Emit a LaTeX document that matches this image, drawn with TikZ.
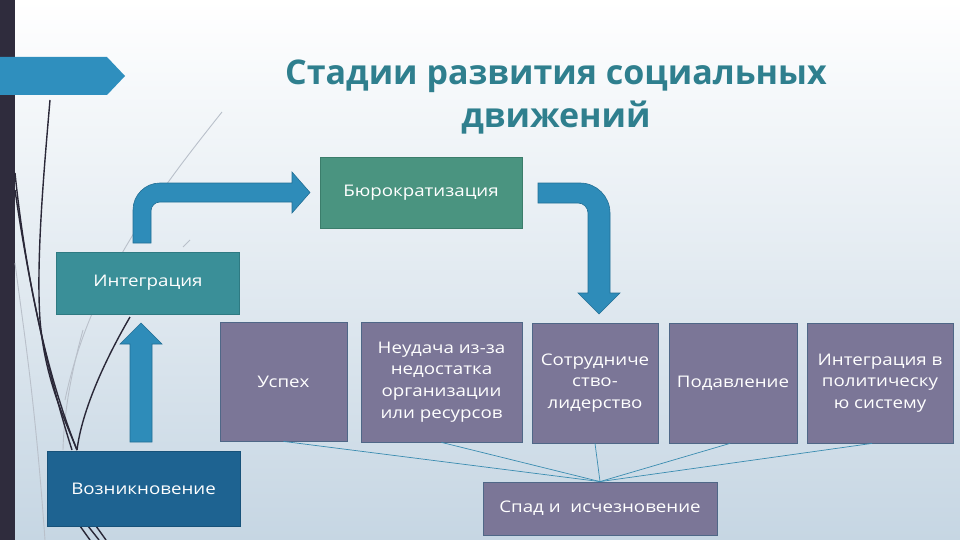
\documentclass[tikz,border=0pt]{standalone}
\usepackage{fontspec}
\setmainfont{Open Sans}
\newfontfamily\boxfont[FakeStretch=1.17]{Open Sans}
\usetikzlibrary{positioning}
\definecolor{bgbottom}{HTML}{C6D6E3}
\definecolor{darkbar}{HTML}{2F2C3D}
\definecolor{tabblue}{HTML}{2F8FBE}
\definecolor{arrowblue}{HTML}{2E8CB9}
\definecolor{arrowedge}{HTML}{226F95}
\definecolor{titleteal}{HTML}{2F7F8E}
\definecolor{purplebox}{HTML}{7B7697}
\definecolor{purpleedge}{HTML}{4F6787}
\definecolor{burogreen}{HTML}{4A9480}
\definecolor{buroedge}{HTML}{3B7D6B}
\definecolor{integteal}{HTML}{3A8F98}
\definecolor{integedge}{HTML}{2E7A82}
\definecolor{vozblue}{HTML}{1E6391}
\definecolor{vozedge}{HTML}{17527A}
\definecolor{linkblue}{HTML}{3A8CB0}
\definecolor{decodark}{HTML}{2A2838}
\definecolor{decolight}{HTML}{B9C0CA}
\tikzset{
  stagebox/.style={draw, line width=0.8pt, text=white, align=center, inner sep=2pt,
    font=\boxfont\fontsize{16}{21.7}\selectfont},
  outcome/.style={stagebox, fill=purplebox, draw=purpleedge},
  link/.style={draw=linkblue, line width=0.7pt},
  blockarrow/.style={fill=arrowblue, draw=arrowedge, line width=0.6pt},
  decoline/.style={draw=decodark, line width=1.4pt},
  decofaint/.style={draw=decolight, line width=0.9pt}
}
\begin{document}
\begin{tikzpicture}[x=1pt,y=-1pt]
\useasboundingbox (0,0) rectangle (960,540);
% background
\shade[top color=white, middle color={rgb,255:red,236;green,240;blue,245}, bottom color=bgbottom] (0,0) rectangle (960,540);
\fill[darkbar] (0,0) rectangle (15,540);
% decorative lines
\draw[decofaint] (222,112) .. controls (160,190) and (90,280) .. (65,400);
\draw[decofaint] (15,263) .. controls (25,340) and (35,400) .. (45,540);
\draw[decofaint] (83,330) .. controls (72,370) and (64,410) .. (63,450);
\draw[decofaint] (183,247) -- (190,240);
\draw[decoline] (50,100) .. controls (44,170) and (36,260) .. (40,320) .. controls (45,380) and (65,420) .. (77,450);
\draw[decoline] (15,173) .. controls (25,270) and (45,370) .. (77,450);
\draw[decoline] (15,190) .. controls (28,280) and (48,375) .. (72,450);
\draw[decoline] (130,317) .. controls (105,360) and (82,410) .. (77,450);
\draw[decoline] (80,526) -- (90,540);
\draw[decoline] (88,526) -- (99,540);
\draw[decoline] (96,526) -- (106,540);
% tab
\fill[tabblue] (0,57) -- (107,57) -- (125,76) -- (107,95) -- (0,95) -- cycle;
% title
\node[text=titleteal, font=\fontsize{34}{43}\selectfont\bfseries, align=center] (title) at (556,97)
  {Стадии развития социальных\\движений};
% stage boxes
\node[stagebox, fill=burogreen, draw=buroedge, minimum width=202pt, minimum height=71pt] (buro) at (421,192.5) {Бюрократизация};
\node[stagebox, fill=integteal, draw=integedge, minimum width=183pt, minimum height=62pt] (integ) at (148,283) {Интеграция};
\node[stagebox, fill=vozblue, draw=vozedge, minimum width=193pt, minimum height=75pt] (voz) at (143.5,488.5) {Возникновение};
\node[outcome, minimum width=127pt, minimum height=119pt] (uspeh) at (283.5,381.5) {Успех};
\node[outcome, minimum width=161pt, minimum height=120pt] (neud) at (441.5,382) {Неудача из-за\\недостатка\\организации\\или ресурсов};
\node[outcome, minimum width=126pt, minimum height=120pt] (sotr) at (595,383) {Сотрудниче\\ство-\\лидерство};
\node[outcome, minimum width=128pt, minimum height=120pt] (podav) at (733,383) {Подавление};
\node[outcome, minimum width=146pt, minimum height=120pt] (integpol) at (880,383) {Интеграция в\\политическу\\ю систему};
\node[outcome, minimum width=234pt, minimum height=53pt] (spad) at (600,508.5) {Спад и\ \ исчезновение};
% connectors to Спад
\draw[link] (uspeh.south) -- (spad.north);
\draw[link] (neud.south) -- (spad.north);
\draw[link] (sotr.south) -- (spad.north);
\draw[link] ([xshift=-3pt]podav.south) -- (spad.north);
\draw[link] ([xshift=-8pt]integpol.south) -- (spad.north);
% block arrows
\draw[blockarrow] (130,442) -- (130,344) -- (120,344) -- (141,323) -- (162,344) -- (152,344) -- (152,442) -- cycle;
\draw[blockarrow] (133,243) -- (133,210) arc[start angle=180, end angle=270, radius=27] -- (292,183) -- (292,172) -- (310,192.5) -- (292,213) -- (292,202) -- (160,202) arc[start angle=270, end angle=180, radius=9] -- (151,243) -- cycle;
\draw[blockarrow] (538,183) -- (580,183) arc[start angle=270, end angle=360, radius=30] -- (610,293) -- (620,293) -- (599,314) -- (578,293) -- (588,293) -- (588,213) arc[start angle=0, end angle=-90, radius=10] -- (538,203) -- cycle;
\end{tikzpicture}
\end{document}
